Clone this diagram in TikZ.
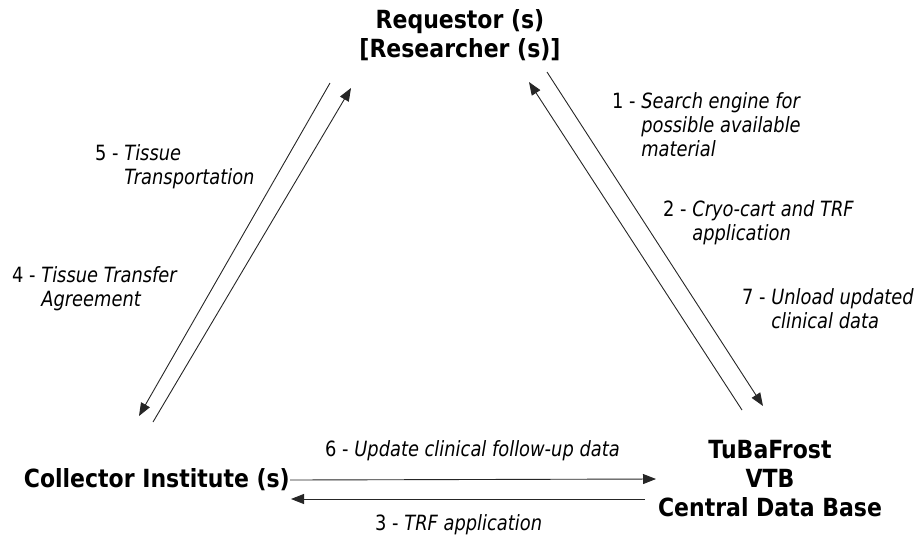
\documentclass[tikz,border=0pt]{standalone}
\usepackage{fontspec}
\setmainfont{DejaVu Sans}[FakeStretch=0.88]
\newfontfamily\lblfont{DejaVu Sans}[FakeStretch=0.85]
\usepackage{array}
\usetikzlibrary{arrows.meta}
\newcommand\mylab[2]{{\lblfont\fontsize{21}{24}\selectfont\renewcommand\arraystretch{1}#1 - \begin{tabular}[t]{@{}>{\itshape}l@{}}#2\end{tabular}}}
\tikzset{
  ent/.style={font=\bfseries\fontsize{25}{29}\selectfont, align=center, inner sep=0pt},
  conn/.style={line width=0.9pt, draw=black!85},
  tipd/.style={-{Triangle[length=13pt,width=10pt]}},
  lbl/.style={anchor=base west, inner sep=0pt}
}
\begin{document}
\begin{tikzpicture}[x=1pt,y=-1pt]
\useasboundingbox (0,0) rectangle (920,539);
% entities
\node[ent] (req) at (460,35) {Requestor (s)\\{[}Researcher (s)]};
\node[ent, anchor=east] (col) at (290,480) {Collector Institute (s)};
\node[ent] (vtb) at (770,479) {TuBaFrost\\VTB\\Central Data Base};
% endpoints of connectors
\coordinate (lA1) at (330,83);  \coordinate (lA2) at (139,416);
\coordinate (lB1) at (153,422); \coordinate (lB2) at (351,88);
\coordinate (rC1) at (742,410); \coordinate (rC2) at (529,82);
\coordinate (rD1) at (547,72);  \coordinate (rD2) at (763,406);
\coordinate (hU2) at (656,479);
\coordinate (hL1) at (645,499); \coordinate (hL2) at (291,499);
% connectors
\draw[conn, tipd] (lA1) -- (lA2);
\draw[conn, tipd] (lB1) -- (lB2);
\draw[conn, tipd] (rC1) -- (rC2);
\draw[conn, tipd] (rD1) -- (rD2);
\draw[conn, tipd] (col.east) -- (hU2);
\draw[conn, tipd] (hL1) -- (hL2);
% labels
\node[lbl] (l1) at (612,108) {\mylab{1}{Search engine for\\possible available\\material}};
\node[lbl] (l2) at (663,216) {\mylab{2}{Cryo-cart and TRF\\application}};
\node[lbl] (l7) at (742,304) {\mylab{7}{Unload updated\\clinical data}};
\node[lbl] (l5) at (95,160) {\mylab{5}{Tissue\\Transportation}};
\node[lbl] (l4) at (12,282) {\mylab{4}{Tissue Transfer\\Agreement}};
\node[lbl] (l6) at (325,456) {\mylab{6}{Update clinical follow-up data}};
\node[lbl] (l3) at (375,530) {\mylab{3}{TRF application}};
\end{tikzpicture}
\end{document}
